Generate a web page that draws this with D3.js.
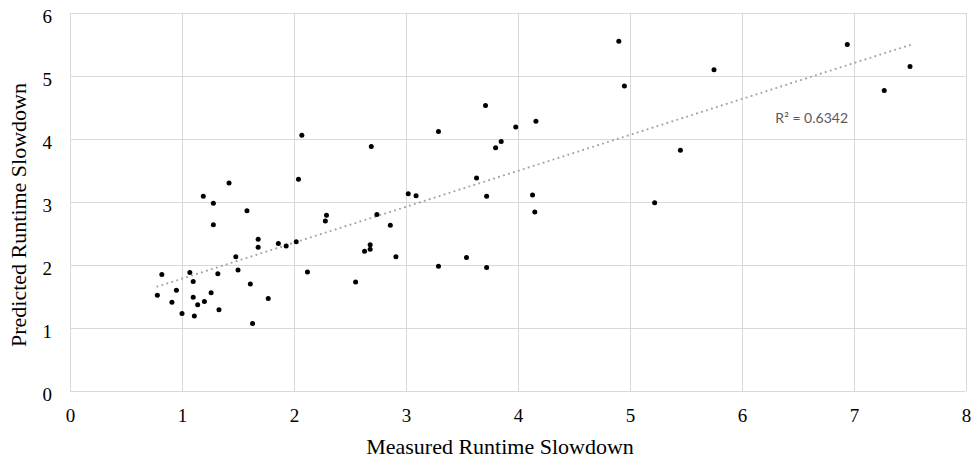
<!DOCTYPE html>
<html><head><meta charset="utf-8">
<script src="https://cdn.jsdelivr.net/npm/d3@7"></script>
<style>body{margin:0;background:#fff}svg{display:block}</style>
</head><body>
<script>
const measured = [1.42,2.04,1.19,1.28,1.58,1.28,1.68,1.68,1.86,1.93,2.02,1.48,1.50,2.12,0.82,1.07,1.32,1.10,1.61,0.78,0.95,1.26,0.91,1.10,1.14,1.20,1.77,1.00,1.11,1.33,1.63,
 2.07,2.69,3.29,3.71,3.98,4.16,3.80,3.85,3.63,3.02,3.09,3.72,4.13,4.15,2.29,2.28,2.74,2.86,2.68,2.68,2.63,2.91,2.55,3.29,3.54,3.72,
 4.90,4.95,5.75,5.45,5.22,6.94,7.50,7.27];
const predicted = [3.30,3.36,3.09,2.98,2.86,2.64,2.41,2.28,2.34,2.30,2.37,2.13,1.92,1.89,1.85,1.88,1.86,1.74,1.70,1.52,1.60,1.56,1.41,1.49,1.37,1.42,1.47,1.23,1.19,1.29,1.07,
 4.06,3.88,4.12,4.53,4.19,4.28,3.86,3.96,3.38,3.13,3.10,3.09,3.11,2.84,2.79,2.70,2.80,2.63,2.32,2.25,2.22,2.13,1.73,1.98,2.12,1.96,
 5.55,4.84,5.10,3.82,2.99,5.50,5.15,4.77];
const xTicks = [0,1,2,3,4,5,6,7,8];
const yTicks = [0,1,2,3,4,5,6];
const xTitle = "Measured Runtime Slowdown";
const yTitle = "Predicted Runtime Slowdown";
const r2Label = "R\u00B2 = 0.6342";

const W = 974, H = 461;
const svg = d3.select("body").append("svg").attr("width", W).attr("height", H);
const x = d3.scaleLinear().domain([0, 8]).range([70, 966]);
const y = d3.scaleLinear().domain([0, 6]).range([391, 13]);
const serif = "'Liberation Serif','Times New Roman',serif";

// gridlines
svg.append("g").selectAll("line").data(xTicks).join("line")
  .attr("x1", d => x(d)).attr("x2", d => x(d)).attr("y1", y(0)).attr("y2", y(6))
  .attr("stroke", "#d9d9d9").attr("stroke-width", 1).attr("shape-rendering", "crispEdges");
svg.append("g").selectAll("line").data(yTicks).join("line")
  .attr("x1", x(0)).attr("x2", x(8)).attr("y1", d => y(d)).attr("y2", d => y(d))
  .attr("stroke", "#d9d9d9").attr("stroke-width", 1).attr("shape-rendering", "crispEdges");

// axes labels via d3 axes
const xAxis = svg.append("g").attr("transform", `translate(0,${y(0)})`)
  .call(d3.axisBottom(x).tickValues(xTicks).tickFormat(d3.format("d")).tickSize(0).tickPadding(0));
xAxis.attr("font-family", null).attr("font-size", null);
xAxis.select(".domain").remove();
xAxis.selectAll("text").style("font-family", serif).style("font-size", "19px").attr("fill", "#000")
  .attr("y", 0).attr("dy", 31);
const yAxis = svg.append("g").attr("transform", `translate(${x(0)},0)`)
  .call(d3.axisLeft(y).tickValues(yTicks).tickFormat(d3.format("d")).tickSize(0).tickPadding(18));
yAxis.attr("font-family", null).attr("font-size", null);
yAxis.select(".domain").remove();
yAxis.selectAll("text").style("font-family", serif).style("font-size", "19px").attr("fill", "#000")
  .attr("dy", 9);

// trendline (least squares from the data)
const n = measured.length;
const mx = d3.mean(measured), my = d3.mean(predicted);
let sxy = 0, sxx = 0;
for (let i = 0; i < n; i++) { sxy += (measured[i]-mx)*(predicted[i]-my); sxx += (measured[i]-mx)**2; }
const slope = sxy / sxx, intercept = my - slope * mx;
const [xmin, xmax] = d3.extent(measured);
svg.append("line")
  .attr("x1", x(xmin)).attr("y1", y(intercept + slope * xmin))
  .attr("x2", x(xmax)).attr("y2", y(intercept + slope * xmax))
  .attr("stroke", "#a6a6a6").attr("stroke-width", 2.2)
  .attr("stroke-linecap", "round").attr("stroke-dasharray", "0 5.2");

// points
svg.append("g").selectAll("circle").data(measured).join("circle")
  .attr("cx", d => x(d)).attr("cy", (d, i) => y(predicted[i])).attr("r", 2.5).attr("fill", "#000");

// R² label
svg.append("text").attr("x", 848).attr("y", 123).attr("text-anchor", "end")
  .style("font-family", "Lato, 'Open Sans', sans-serif").style("font-size", "14px").attr("fill", "#595959")
  .text(r2Label);

// titles
svg.append("text").attr("x", 500).attr("y", 454).attr("text-anchor", "middle")
  .style("font-family", serif).style("font-size", "22px").attr("fill", "#000").text(xTitle);
svg.append("text").attr("transform", "translate(26,215) rotate(-90)").attr("text-anchor", "middle")
  .style("font-family", serif).style("font-size", "22px").attr("fill", "#000").text(yTitle);
</script>
</body></html>
